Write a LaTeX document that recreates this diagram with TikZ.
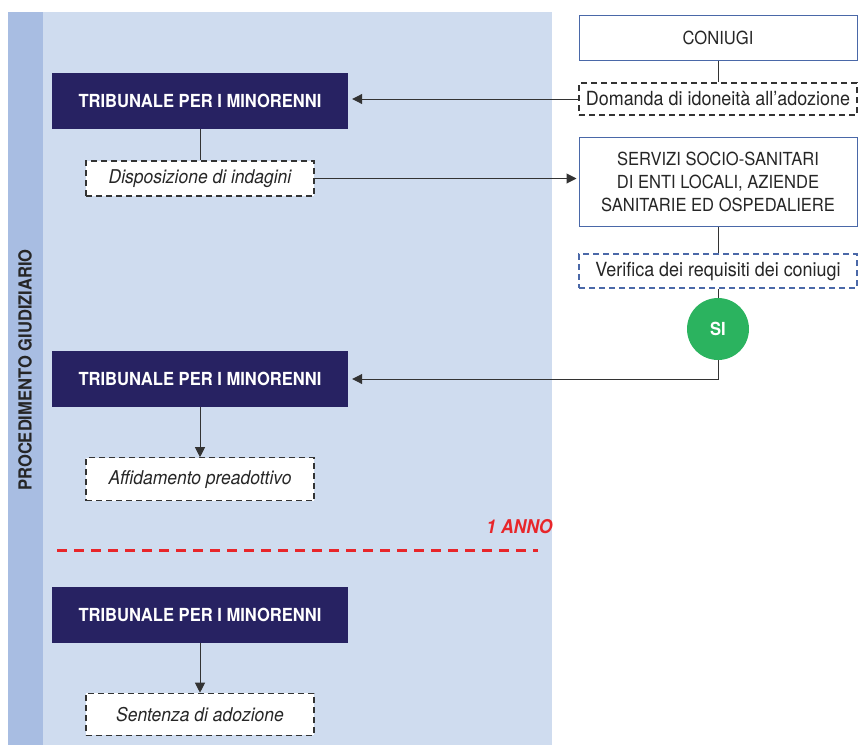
\documentclass[tikz,border=0pt]{standalone}
\usepackage{fontspec}
\setmainfont{TeX Gyre Heros}[FakeStretch=0.92]
\usepackage{tikz}
\usetikzlibrary{positioning,arrows.meta}

\definecolor{navy}{HTML}{272262}
\definecolor{panel}{HTML}{CFDCEF}
\definecolor{strip}{HTML}{A8BDE2}
\definecolor{siverde}{HTML}{2BB35F}
\definecolor{annored}{HTML}{E8262A}
\definecolor{boxblue}{HTML}{4A68A8}
\definecolor{linegray}{HTML}{333333}

\begin{document}
\begin{tikzpicture}[x=1pt,y=-1pt,
  tribnode/.style={rectangle, fill=navy, text=white, minimum width=296pt, minimum height=56pt, font=\fontsize{18}{21}\selectfont\bfseries},
  actnode/.style={rectangle, draw=linegray, fill=white, line width=1.2pt, dash pattern=on 6pt off 4pt, minimum width=228pt, font=\fontsize{19}{22}\selectfont\itshape, text=black!85},
  bluenode/.style={rectangle, draw=boxblue, fill=white, line width=1pt, minimum width=278pt, font=\fontsize{18}{23}\selectfont, text=black!85, align=center},
  stepnode/.style={rectangle, draw=linegray, fill=white, line width=1.2pt, dash pattern=on 6pt off 4pt, minimum width=278pt, minimum height=32pt, inner xsep=2pt, font=\fontsize{19.5}{22}\selectfont, text=black!85},
  sinode/.style={circle, fill=siverde, text=white, minimum size=62pt, inner sep=0pt, font=\fontsize{18}{21}\selectfont\bfseries},
  link/.style={linegray, line width=1pt},
  arr/.style={linegray, line width=1pt, -{Triangle[length=10pt,width=10pt]}},
  ]
  \useasboundingbox (0,0) rectangle (863,745);
  % background bands
  \fill[panel] (8,12) rectangle (552,745);
  \fill[strip] (8,12) rectangle (43,745);
  \node[rotate=90, font=\fontsize{18}{21}\selectfont\bfseries, text=black!85] (proc) at (25,370) {PROCEDIMENTO GIUDIZIARIO};

  % right column
  \node[bluenode, minimum height=45pt] (coniugi) at (718,37.5) {CONIUGI};
  \node[stepnode] (domanda) at (718,99) {Domanda di idoneità all’adozione};
  \node[bluenode, minimum height=89pt] (servizi) at (718,181.5) {SERVIZI SOCIO-SANITARI\\DI ENTI LOCALI, AZIENDE\\SANITARIE ED OSPEDALIERE};
  \node[stepnode, draw=boxblue, minimum height=34pt] (verifica) at (718,271) {Verifica dei requisiti dei coniugi};
  \node[sinode] (si) at (718,329) {SI};

  % left column
  \node[tribnode] (trib1) at (200,101) {TRIBUNALE PER I MINORENNI};
  \node[actnode, minimum height=35pt] (disp) at (200,178.5) {Disposizione di indagini};
  \node[tribnode] (trib2) at (200,379) {TRIBUNALE PER I MINORENNI};
  \node[actnode, minimum height=43pt, below=50pt of trib2] (affid) {Affidamento preadottivo};
  \node[tribnode] (trib3) at (200,614.5) {TRIBUNALE PER I MINORENNI};
  \node[actnode, minimum height=42pt, below=50pt of trib3] (sent) {Sentenza di adozione};

  % one year
  \node[font=\fontsize{19}{22}\selectfont\bfseries\itshape, text=annored, anchor=east] (anno) at (556,527) {1 ANNO};
  \coordinate (dashA) at (57,550);
  \coordinate (dashB) at (538,550);
  \draw[annored, line width=3pt, dash pattern=on 10pt off 7pt] (dashA) -- (dashB);

  % connectors
  \draw[link] (coniugi) -- (domanda);
  \draw[arr, shorten >=4pt] (domanda.west) -- (domanda.west -| trib1.east);
  \draw[link] (trib1) -- (disp);
  \draw[arr, shorten >=2pt] (disp.east) -- (disp.east -| servizi.west);
  \draw[link] (servizi) -- (verifica);
  \draw[link] (verifica) -- (si);
  \draw[arr, shorten >=4pt] (si.south) |- (trib2.east);
  \draw[arr] (trib2) -- (affid);
  \draw[arr] (trib3) -- (sent);
\end{tikzpicture}
\end{document}
